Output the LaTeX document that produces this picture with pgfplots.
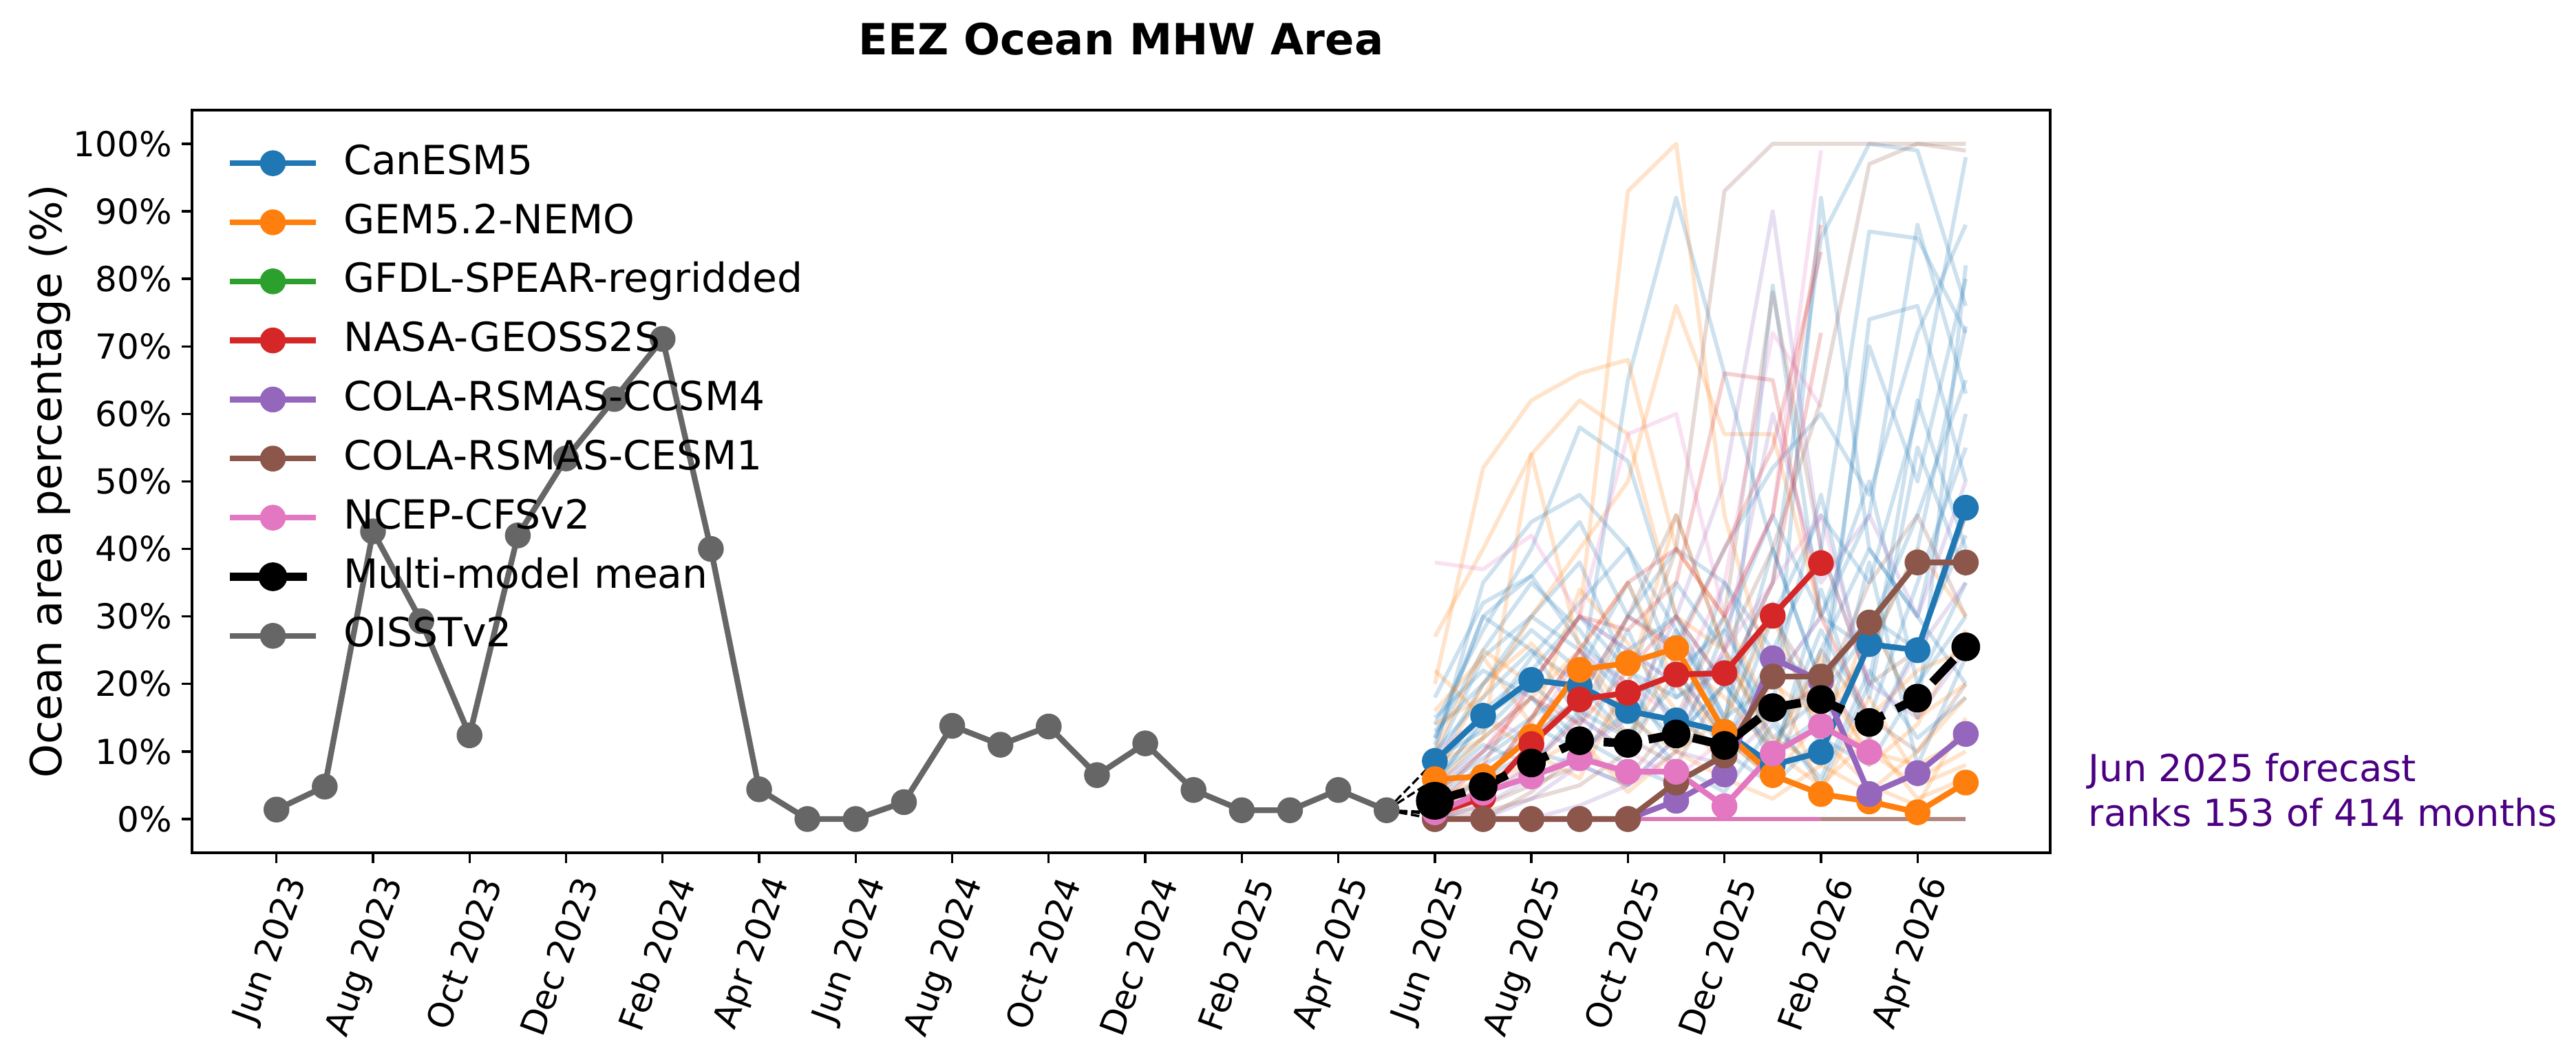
\documentclass[border=0pt]{standalone}
\usepackage{fontspec}
\setmainfont{DejaVu Sans}
\usepackage{pgfplots}
\pgfplotsset{compat=1.18}

\definecolor{cblue}{HTML}{1F77B4}
\definecolor{corange}{HTML}{FF7F0E}
\definecolor{cgreen}{HTML}{2CA02C}
\definecolor{cred}{HTML}{D62728}
\definecolor{cpurple}{HTML}{9467BD}
\definecolor{cbrown}{HTML}{8C564B}
\definecolor{cpink}{HTML}{E377C2}
\definecolor{cgray}{HTML}{666666}
\definecolor{indigo}{HTML}{4B0082}

\begin{document}
\begin{tikzpicture}
\path[use as bounding box] (-66.96pt,-72.72pt) rectangle (831.36pt,297.36pt);
\begin{axis}[
  name=ax,
  at={(0pt,0pt)}, anchor=south west,
  scale only axis, width=648pt, height=259pt,
  xmin=-1.75, xmax=36.75, ymin=-5, ymax=105,
  axis line style={line width=0.8pt},
  tick align=outside, major tick length=3.5pt,
  tick style={line width=0.8pt, black},
  xtick={0,2,...,34},
  xticklabels={Jun 2023,Aug 2023,Oct 2023,Dec 2023,Feb 2024,Apr 2024,Jun 2024,Aug 2024,Oct 2024,Dec 2024,Feb 2025,Apr 2025,Jun 2025,Aug 2025,Oct 2025,Dec 2025,Feb 2026,Apr 2026},
  xticklabel style={font=\fontsize{12}{14}\selectfont, rotate=70, anchor=east, inner sep=2pt, xshift=-0.6pt, yshift=-8.9pt},
  ytick={0,10,...,100},
  yticklabels={0\%,10\%,20\%,30\%,40\%,50\%,60\%,70\%,80\%,90\%,100\%},
  yticklabel style={font=\fontsize{12}{14}\selectfont},
  xtick pos=bottom, ytick pos=left,
  ylabel={Ocean area percentage (\%)},
  ylabel style={font=\fontsize{15}{18}\selectfont, at={(axis description cs:0,0.5)}, anchor=center, yshift=49.7pt},
  legend image code/.code={\draw[mark repeat=2,mark phase=2,#1] plot coordinates {(0pt,0pt) (15pt,0pt) (30pt,0pt)};},
  legend style={at={(axis description cs:0,1)}, anchor=north west, xshift=11.5pt, yshift=-11.9pt,
    draw=none, fill=none, inner sep=0pt, font=\fontsize{14}{16}\selectfont, row sep=7.7pt, column sep=8.2pt,
    nodes={inner sep=0pt, text height=10.3pt, text depth=2.6pt}},
  legend cell align=left,
  faint/.style={line width=1.4pt, opacity=0.22, forget plot, line join=round},
  model/.style={line width=2pt, mark=*, mark size=3.5pt, line join=round},
]
% ensemble members, CanESM5
\addplot[faint, cblue] coordinates {(24,12)(25,30)(26,25)(27,20)(28,65)(29,92)(30,66)(31,40)(32,20)(33,30)(34,25)(35,45)};
\addplot[faint, cblue] coordinates {(24,14)(25,28)(26,40)(27,58)(28,53)(29,30)(30,20)(31,10)(32,25)(33,40)(34,30)(35,60)};
\addplot[faint, cblue] coordinates {(24,10)(25,35)(26,44)(27,48)(28,40)(29,28)(30,15)(31,40)(32,20)(33,70)(34,50)(35,80)};
\addplot[faint, cblue] coordinates {(24,8)(25,20)(26,30)(27,25)(28,18)(29,12)(30,20)(31,35)(32,86)(33,100)(34,99)(35,76)};
\addplot[faint, cblue] coordinates {(24,5)(25,15)(26,20)(27,30)(28,22)(29,15)(30,10)(31,25)(32,40)(33,87)(34,86)(35,72)};
\addplot[faint, cblue] coordinates {(24,6)(25,12)(26,18)(27,10)(28,25)(29,30)(30,15)(31,20)(32,30)(33,45)(34,88)(35,63)};
\addplot[faint, cblue] coordinates {(24,4)(25,10)(26,15)(27,20)(28,12)(29,20)(30,30)(31,10)(32,15)(33,74)(34,76)(35,50)};
\addplot[faint, cblue] coordinates {(24,10)(25,18)(26,25)(27,15)(28,10)(29,35)(30,25)(31,15)(32,5)(33,20)(34,62)(35,40)};
\addplot[faint, cblue] coordinates {(24,7)(25,16)(26,22)(27,30)(28,25)(29,20)(30,10)(31,30)(32,45)(33,35)(34,60)(35,98)};
\addplot[faint, cblue] coordinates {(24,3)(25,8)(26,12)(27,18)(28,30)(29,40)(30,35)(31,25)(32,20)(33,30)(34,15)(35,82)};
\addplot[faint, cblue] coordinates {(24,12)(25,25)(26,35)(27,28)(28,18)(29,22)(30,28)(31,45)(32,30)(33,25)(34,40)(35,73)};
\addplot[faint, cblue] coordinates {(24,2)(25,6)(26,10)(27,8)(28,5)(29,12)(30,20)(31,10)(32,28)(33,15)(34,35)(35,55)};
\addplot[faint, cblue] coordinates {(24,15)(25,22)(26,18)(27,12)(28,8)(29,5)(30,10)(31,5)(32,12)(33,8)(34,20)(35,30)};
\addplot[faint, cblue] coordinates {(24,11)(25,30)(26,36)(27,26)(28,20)(29,10)(30,28)(31,15)(32,92)(33,40)(34,30)(35,20)};
\addplot[faint, cblue] coordinates {(24,6)(25,14)(26,24)(27,32)(28,40)(29,22)(30,12)(31,79)(32,30)(33,50)(34,20)(35,35)};
\addplot[faint, cblue] coordinates {(24,9)(25,24)(26,30)(27,38)(28,22)(29,18)(30,24)(31,12)(32,18)(33,28)(34,45)(35,65)};
\addplot[faint, cblue] coordinates {(24,4)(25,9)(26,14)(27,10)(28,16)(29,8)(30,4)(31,14)(32,6)(33,22)(34,12)(35,18)};
\addplot[faint, cblue] coordinates {(24,18)(25,32)(26,36)(27,44)(28,30)(29,26)(30,40)(31,52)(32,60)(33,48)(34,72)(35,88)};
\addplot[faint, cblue] coordinates {(24,13)(25,20)(26,28)(27,22)(28,35)(29,18)(30,22)(31,8)(32,34)(33,12)(34,26)(35,42)};
\addplot[faint, cblue] coordinates {(24,5)(25,11)(26,8)(27,16)(28,12)(29,28)(30,14)(31,32)(32,10)(33,38)(34,8)(35,24)};
\addplot[faint, cblue] coordinates {(24,9)(25,13)(26,20)(27,14)(28,28)(29,12)(30,35)(31,20)(32,48)(33,18)(34,55)(35,36)};
% GEM5.2-NEMO
\addplot[faint, corange] coordinates {(24,20)(25,52)(26,62)(27,66)(28,68)(29,40)(30,30)(31,15)(32,20)(33,10)(34,8)(35,12)};
\addplot[faint, corange] coordinates {(24,10)(25,25)(26,20)(27,30)(28,93)(29,100)(30,45)(31,20)(32,15)(33,10)(34,5)(35,8)};
\addplot[faint, corange] coordinates {(24,27)(25,40)(26,54)(27,62)(28,57)(29,30)(30,25)(31,10)(32,5)(33,12)(34,3)(35,6)};
\addplot[faint, corange] coordinates {(24,14)(25,18)(26,30)(27,40)(28,50)(29,76)(30,57)(31,57)(32,30)(33,15)(34,22)(35,25)};
\addplot[faint, corange] coordinates {(24,5)(25,12)(26,54)(27,25)(28,15)(29,10)(30,6)(31,3)(32,8)(33,4)(34,10)(35,18)};
\addplot[faint, corange] coordinates {(24,22)(25,15)(26,10)(27,6)(28,20)(29,45)(30,25)(31,12)(32,8)(33,30)(34,15)(35,20)};
\addplot[faint, corange] coordinates {(24,3)(25,6)(26,8)(27,12)(28,4)(29,10)(30,15)(31,30)(32,12)(33,5)(34,2)(35,15)};
\addplot[faint, corange] coordinates {(24,8)(25,12)(26,18)(27,25)(28,35)(29,20)(30,12)(31,6)(32,15)(33,25)(34,40)(35,30)};
\addplot[faint, corange] coordinates {(24,16)(25,24)(26,14)(27,34)(28,26)(29,16)(30,8)(31,22)(32,4)(33,18)(34,6)(35,10)};
\addplot[faint, corange] coordinates {(24,6)(25,20)(26,26)(27,18)(28,12)(29,24)(30,18)(31,10)(32,24)(33,8)(34,14)(35,28)};
% COLA-RSMAS-CESM1
\addplot[faint, cbrown] coordinates {(24,0)(25,2)(26,5)(27,8)(28,20)(29,40)(30,93)(31,100)(32,100)(33,100)(34,100)(35,100)};
\addplot[faint, cbrown] coordinates {(24,0)(25,3)(26,8)(27,15)(28,30)(29,45)(30,25)(31,40)(32,62)(33,97)(34,100)(35,99)};
\addplot[faint, cbrown] coordinates {(24,0)(25,0)(26,4)(27,10)(28,6)(29,15)(30,30)(31,78)(32,40)(33,20)(34,25)(35,45)};
\addplot[faint, cbrown] coordinates {(24,0)(25,5)(26,15)(27,25)(28,12)(29,8)(30,20)(31,30)(32,18)(33,35)(34,45)(35,30)};
\addplot[faint, cbrown] coordinates {(24,0)(25,1)(26,3)(27,5)(28,10)(29,22)(30,12)(31,6)(32,25)(33,15)(34,10)(35,20)};
% COLA-RSMAS-CCSM4
\addplot[faint, cpurple] coordinates {(24,0)(25,2)(26,6)(27,10)(28,15)(29,30)(30,50)(31,90)(32,40)(33,20)(34,15)(35,25)};
\addplot[faint, cpurple] coordinates {(24,0)(25,0)(26,3)(27,8)(28,5)(29,12)(30,25)(31,60)(32,35)(33,45)(34,30)(35,50)};
\addplot[faint, cpurple] coordinates {(24,0)(25,0)(26,0)(27,2)(28,5)(29,10)(30,8)(31,15)(32,20)(33,12)(34,25)(35,35)};
% NCEP-CFSv2
\addplot[faint, cpink] coordinates {(24,38)(25,37)(26,42)(27,30)(28,25)(29,20)(30,35)(31,72)(32,61)};
\addplot[faint, cpink] coordinates {(24,5)(25,10)(26,20)(27,30)(28,57)(29,60)(30,30)(31,45)(32,99)};
\addplot[faint, cpink] coordinates {(24,2)(25,4)(26,8)(27,15)(28,10)(29,6)(30,12)(31,20)(32,30)(33,15)};
\addplot[faint, cpink] coordinates {(24,10)(25,15)(26,12)(27,25)(28,20)(29,15)(30,25)(31,35)(32,45)(33,20)};
% NASA-GEOSS2S
\addplot[faint, cred] coordinates {(24,2)(25,8)(26,20)(27,30)(28,28)(29,35)(30,66)(31,65)(32,30)};
\addplot[faint, cred] coordinates {(24,0)(25,5)(26,15)(27,25)(28,35)(29,40)(30,30)(31,45)(32,88)};
\addplot[faint, cred] coordinates {(24,1)(25,6)(26,12)(27,18)(28,30)(29,25)(30,40)(31,55)(32,84)};
\addplot[faint, cred] coordinates {(24,3)(25,10)(26,18)(27,14)(28,22)(29,30)(30,20)(31,35)(32,72)};
% members that stay at zero
\addplot[line width=1.4pt, cbrown, opacity=0.7, forget plot] coordinates {(24,0)(25,0)(26,0)(27,0)(28,0)(29,0)(30,0)(31,0)(32,0)(33,0)(34,0)(35,0)};
\addplot[line width=1.4pt, cpink, opacity=0.85, forget plot] coordinates {(24,0)(25,0)(26,0)(27,0)(28,0)(29,0)(30,0)(31,0)(32,0)};
% connectors from last observation
\addplot[black, line width=0.8pt, dash pattern=on 3pt off 1.3pt, forget plot] coordinates {(23,1.3)(24,8.6)};
\addplot[black, line width=0.8pt, dash pattern=on 3pt off 1.3pt, forget plot] coordinates {(23,1.3)(24,5.9)};
\addplot[black, line width=0.8pt, dash pattern=on 3pt off 1.3pt, forget plot] coordinates {(23,1.3)(24,0.7)};
\addplot[black, line width=0.8pt, dash pattern=on 3pt off 1.3pt, forget plot] coordinates {(23,1.3)(24,0)};
\addplot[black, line width=0.8pt, dash pattern=on 3pt off 1.3pt, forget plot] coordinates {(23,1.3)(24,1.0)};
% models
\addplot[model, cblue] coordinates {(24,8.6)(25,15.3)(26,20.6)(27,19.7)(28,16.0)(29,14.6)(30,12.9)(31,8.0)(32,9.9)(33,25.9)(34,25.0)(35,46.1)};
\addlegendentry{CanESM5}
\addplot[model, corange] coordinates {(24,5.9)(25,6.3)(26,12.2)(27,22.1)(28,23.1)(29,25.3)(30,12.9)(31,6.5)(32,3.7)(33,2.6)(34,1.0)(35,5.4)};
\addlegendentry{GEM5.2-NEMO}
\addlegendimage{model, cgreen}
\addlegendentry{GFDL-SPEAR-regridded}
\addplot[model, cred] coordinates {(24,0.7)(25,3.2)(26,11.1)(27,17.7)(28,18.7)(29,21.4)(30,21.6)(31,30.1)(32,37.9)};
\addlegendentry{NASA-GEOSS2S}
\addplot[model, cpurple] coordinates {(24,0)(25,0)(26,0)(27,0)(28,0)(29,2.7)(30,6.6)(31,23.8)(32,20.4)(33,3.7)(34,6.8)(35,12.6)};
\addlegendentry{COLA-RSMAS-CCSM4}
\addplot[model, cbrown] coordinates {(24,0)(25,0)(26,0)(27,0)(28,0)(29,5.4)(30,9.4)(31,21.1)(32,21.1)(33,29.1)(34,38.0)(35,38.0)};
\addlegendentry{COLA-RSMAS-CESM1}
\addplot[model, cpink] coordinates {(24,1.0)(25,3.9)(26,6.3)(27,9.0)(28,7.0)(29,7.0)(30,1.9)(31,9.7)(32,13.8)(33,9.9)};
\addlegendentry{NCEP-CFSv2}
\addplot[black, line width=3pt, dash pattern=on 11pt off 4.8pt, mark=*, mark size=3.5pt, mark options={solid}]
  coordinates {(24,2.7)(25,4.8)(26,8.3)(27,11.6)(28,11.2)(29,12.6)(30,10.9)(31,16.5)(32,17.7)(33,14.3)(34,17.9)(35,25.5)};
\addlegendentry{Multi-model mean}
\addplot[model, cgray] coordinates {(0,1.4)(1,4.8)(2,42.6)(3,29.3)(4,12.4)(5,42.0)(6,53.4)(7,62.2)(8,71.1)(9,40.0)(10,4.4)(11,0)(12,0)(13,2.5)(14,13.8)(15,11.0)(16,13.7)(17,6.5)(18,11.2)(19,4.3)(20,1.3)(21,1.3)(22,4.3)(23,1.3)};
\addlegendentry{OISSTv2}
\addplot[only marks, black, mark=*, mark size=6.4pt, forget plot] coordinates {(24,2.7)};
\end{axis}
\node[font=\fontsize{15}{18}\selectfont\bfseries] at ([yshift=24.7pt]ax.north) {EEZ Ocean MHW Area};
\node[anchor=west, align=left, text=indigo, font=\fontsize{13}{15.6}\selectfont, inner sep=0pt]
  at ([xshift=13.2pt, yshift=22pt]ax.south east) {Jun 2025 forecast\\ranks 153 of 414 months};
\end{tikzpicture}
\end{document}
